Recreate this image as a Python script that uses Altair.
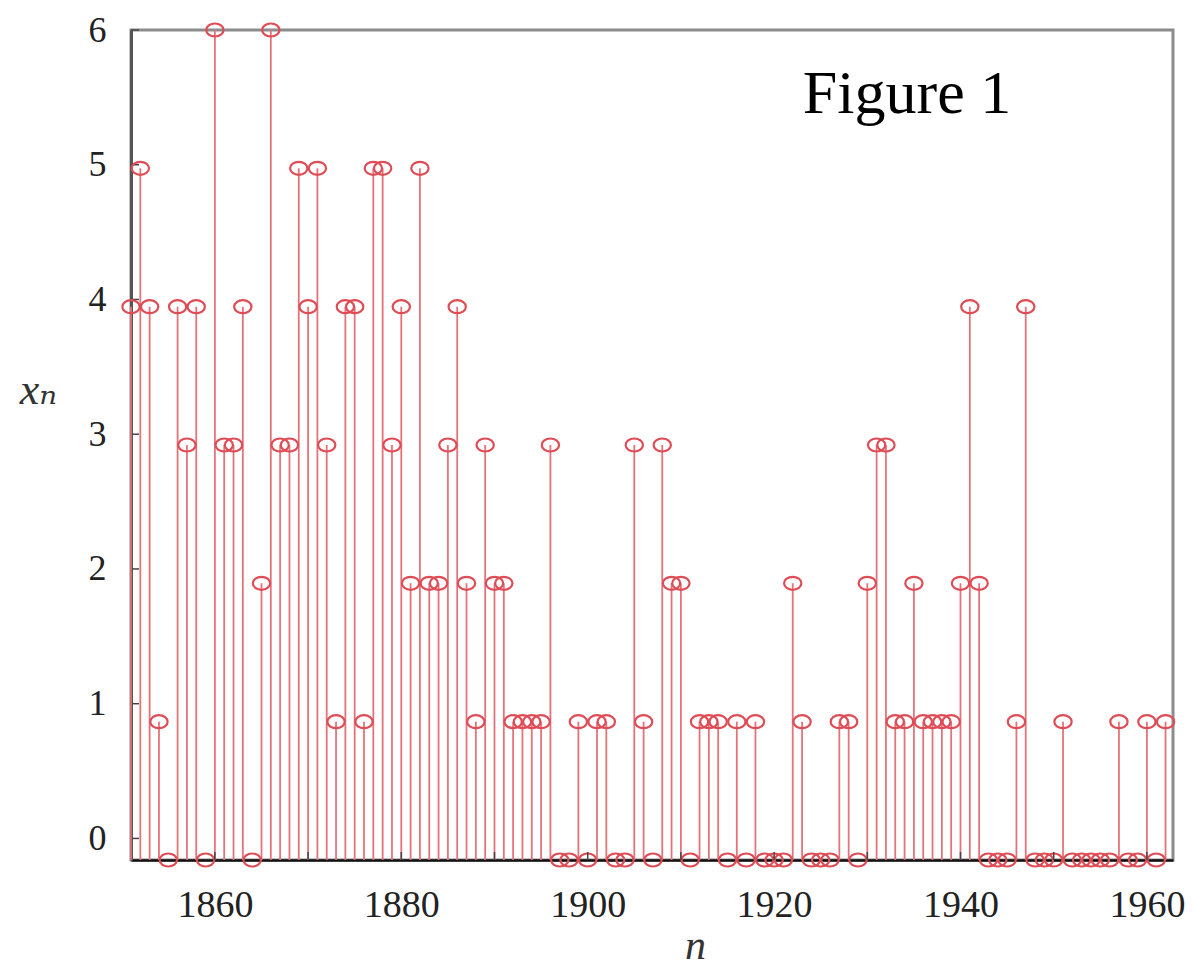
import altair as alt
import pandas as pd

# ---- data ----
years = list(range(1851, 1963))
values = [
    4, 5, 4, 1, 0, 4, 3, 4, 0,            # 1851-1859
    6, 3, 3, 4, 0, 2, 6, 3, 3, 5,         # 1860-1869
    4, 5, 3, 1, 4, 4, 1, 5, 5, 3,         # 1870-1879
    4, 2, 5, 2, 2, 3, 4, 2, 1, 3,         # 1880-1889
    2, 2, 1, 1, 1, 1, 3, 0, 0, 1,         # 1890-1899
    0, 1, 1, 0, 0, 3, 1, 0, 3, 2,         # 1900-1909
    2, 0, 1, 1, 1, 0, 1, 0, 1, 0,         # 1910-1919
    0, 0, 2, 1, 0, 0, 0, 1, 1, 0,         # 1920-1929
    2, 3, 3, 1, 1, 2, 1, 1, 1, 1,         # 1930-1939
    2, 4, 2, 0, 0, 0, 1, 4, 0, 0,         # 1940-1949
    0, 1, 0, 0, 0, 0, 0, 1, 0, 0,         # 1950-1959
    1, 0, 1,                              # 1960-1962
]
x_label_years = [1860, 1880, 1900, 1920, 1940, 1960]
x_tick_years = [1860, 1870, 1880, 1890, 1900, 1910, 1920, 1930, 1940, 1950, 1960]
y_tick_values = [0, 1, 2, 3, 4, 5, 6]
annotation = ["Figure 1"]

df = pd.DataFrame({"n": years, "x": values})
df["base"] = 0
ticks_df = pd.DataFrame({"n": x_tick_years})
yticks_df = pd.DataFrame({"v": y_tick_values})
ann_df = pd.DataFrame({"label": annotation})

SERIF = "Liberation Serif, DejaVu Serif, serif"
STEM = "#e5737a"
RING = "#df4c55"
ELLIPSE = "M-1,0 A1,0.75 0 1,1 1,0 A1,0.75 0 1,1 -1,0 Z"

TOP = 22
H = 830

xscale = alt.Scale(domain=[1851, 1962.8], nice=False, zero=False)
yscale = alt.Scale(domain=[0, 6], nice=False, zero=False)
ylab_scale = alt.Scale(domain=[-0.16, 6], nice=False, zero=False)

x_axis = alt.Axis(
    values=x_label_years, format="d", grid=False,
    ticks=False, tickSize=0,
    labelFont=SERIF, labelFontSize=38, labelColor="#222", labelPadding=26,
    domainColor="#111", domainWidth=2.5,
    title="n", titleFont=SERIF, titleFontStyle="italic", titleFontWeight="normal",
    titleFontSize=42, titleColor="#333", titleX=564, titleY=98,
    titleAlign="center", titleBaseline="alphabetic",
)

y_axis = alt.Axis(
    values=y_tick_values, orient="left", grid=False,
    ticks=False, tickSize=0,
    labelFont=SERIF, labelFontSize=36, labelColor="#222", labelPadding=25,
    domainColor="#555", domainWidth=3,
    title="xₙ", titleFont=SERIF, titleFontStyle="italic", titleFontWeight="normal",
    titleFontSize=44, titleColor="#333", titleAngle=0, titleX=-93, titleY=360,
    titleAlign="center", titleBaseline="middle",
)

ylayer = alt.Chart(yticks_df).mark_rule(color="#444", strokeWidth=1.5).encode(
    y=alt.Y("v:Q", scale=ylab_scale, axis=y_axis),
    x=alt.value(0), x2=alt.value(8),
)

stems = alt.Chart(df).mark_rule(color=STEM, strokeWidth=1.8).encode(
    x=alt.X("n:Q", scale=xscale, axis=x_axis),
    y=alt.Y("x:Q", scale=yscale, axis=None),
    y2="base:Q",
)

points = alt.Chart(df).mark_point(
    shape=ELLIPSE, size=300, filled=False, color=RING, strokeWidth=2.2, opacity=1
).encode(
    x=alt.X("n:Q", scale=xscale),
    y=alt.Y("x:Q", scale=yscale, axis=None),
)

xticks = alt.Chart(ticks_df).mark_rule(color="#444", strokeWidth=1.5).encode(
    x=alt.X("n:Q", scale=xscale),
    y=alt.value(H), y2=alt.value(H - 8),
)

label = alt.Chart(ann_df).mark_text(
    font=SERIF, fontSize=62, color="#000", align="center", baseline="alphabetic"
).encode(text="label:N", x=alt.value(776), y=alt.value(83))

chart = alt.layer(ylayer, stems, points, xticks, label).resolve_scale(
    y="independent"
).properties(
    width=1042, height=H,
    autosize=alt.AutoSizeParams(type="none"),
    padding={"left": 123, "top": TOP, "right": 15, "bottom": 108},
).configure_view(stroke="#8c8c8c", strokeWidth=3)

chart.save("out.html", embed_options={"renderer": "svg", "actions": False})
